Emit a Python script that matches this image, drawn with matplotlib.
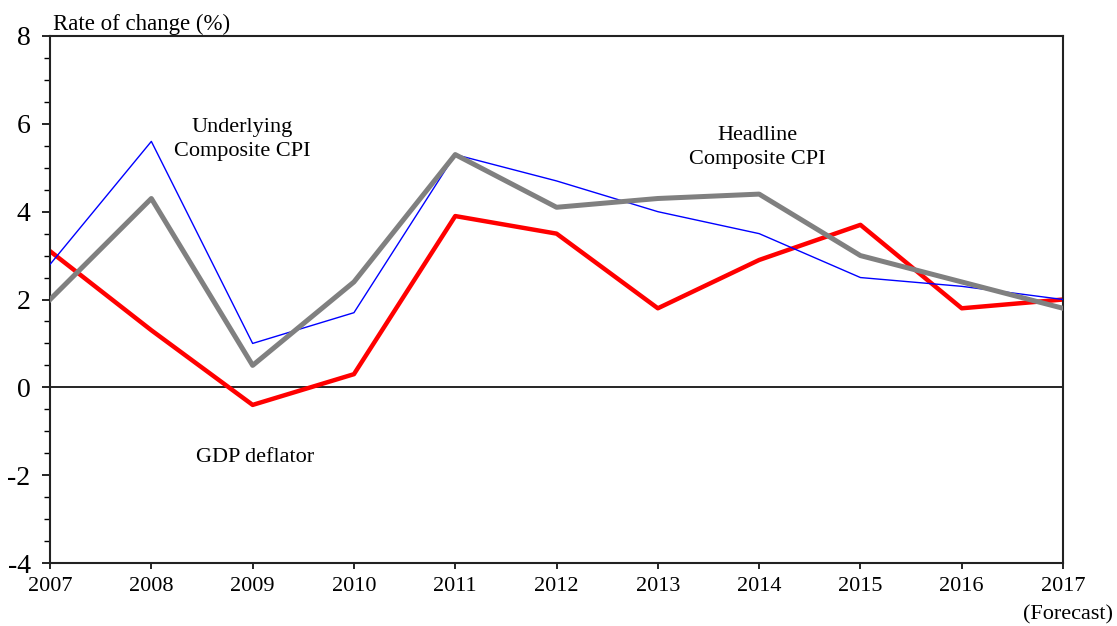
import matplotlib.pyplot as plt
from matplotlib.ticker import MultipleLocator

# years and series (rate of change, %)
years = [2007, 2008, 2009, 2010, 2011, 2012, 2013, 2014, 2015, 2016, 2017]
underlying_cpi = [2.8, 5.6, 1.0, 1.7, 5.3, 4.7, 4.0, 3.5, 2.5, 2.3, 2.0]
headline_cpi = [2.0, 4.3, 0.5, 2.4, 5.3, 4.1, 4.3, 4.4, 3.0, 2.4, 1.8]
gdp_deflator = [3.1, 1.3, -0.4, 0.3, 3.9, 3.5, 1.8, 2.9, 3.7, 1.8, 2.0]

plt.rcParams['font.family'] = ['Liberation Serif', 'DejaVu Serif']
plt.rcParams['axes.unicode_minus'] = False

fig = plt.figure(figsize=(11.17, 6.26), dpi=100)
ax = fig.add_axes([0.0448, 0.1006, 0.9069, 0.8419])

ax.axhline(0, color='black', linewidth=1.2, zorder=1)
ax.plot(years, gdp_deflator, color='#ff0000', linewidth=3.2, zorder=2)
ax.plot(years, underlying_cpi, color='#0000ff', linewidth=1.0, zorder=3)
ax.plot(years, headline_cpi, color='#808080', linewidth=3.6, zorder=4)

ax.set_xlim(2007, 2017)
ax.set_ylim(-4, 8)
ax.set_xticks(years)
ax.yaxis.set_major_locator(MultipleLocator(2))
ax.yaxis.set_minor_locator(MultipleLocator(0.5))
ax.tick_params(axis='both', direction='out', width=1.2)
ax.tick_params(axis='y', which='major', length=6, pad=8, labelsize=20)
ax.tick_params(axis='y', which='minor', length=4, width=1.0)
ax.tick_params(axis='x', length=4, pad=6, labelsize=16)
for s in ax.spines.values():
    s.set_linewidth(1.5)
    s.set_color('#222222')

# labels
ax.text(2008.9, 5.64, 'Underlying\nComposite CPI', ha='center', va='center',
        fontsize=16, linespacing=1.4)
ax.text(2013.98, 5.46, 'Headline\nComposite CPI', ha='center', va='center',
        fontsize=16, linespacing=1.4)
ax.text(2009.02, -1.6, 'GDP deflator', ha='center', va='center', fontsize=16)
fig.text(53 / 1117, 1 - 24 / 626, 'Rate of change (%)', ha='left', va='center',
         fontsize=16.5)
fig.text(1113 / 1117, 1 - 615 / 626, '(Forecast)', ha='right', va='center',
         fontsize=16)

fig.savefig('out.png', dpi=100)
